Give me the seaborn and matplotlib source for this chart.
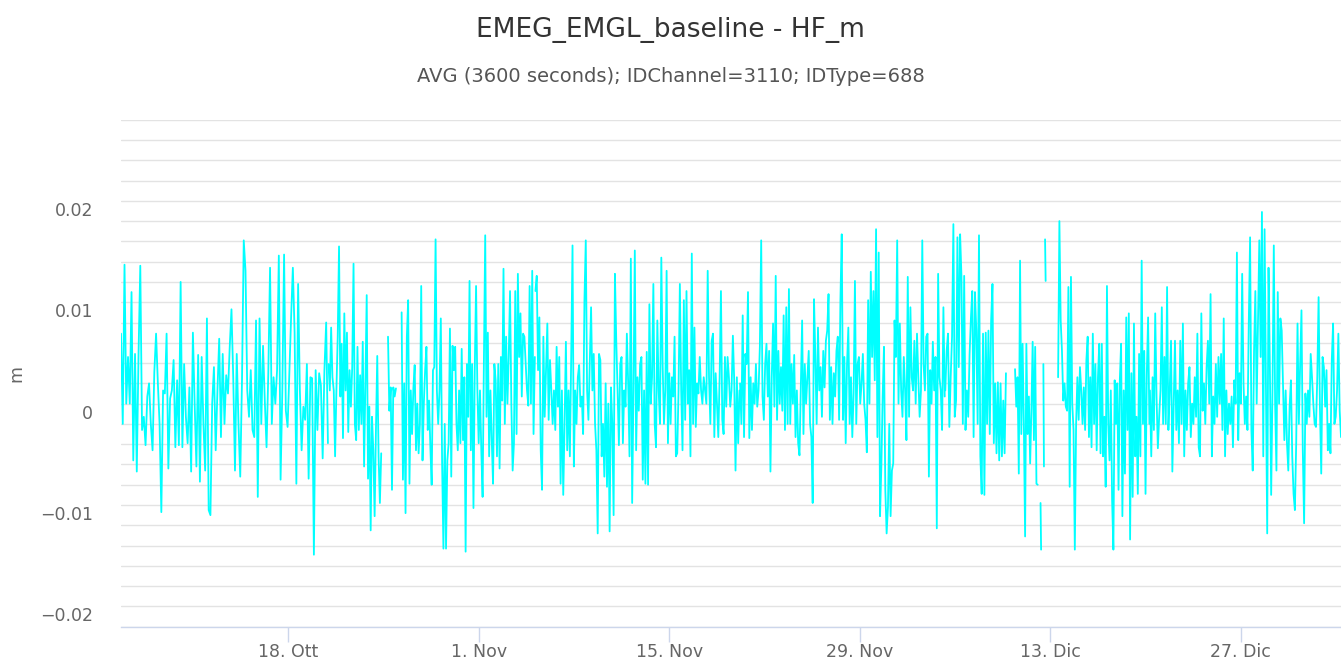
import numpy as np
import pandas as pd
import matplotlib
matplotlib.use("Agg")
import matplotlib.pyplot as plt
from matplotlib.transforms import ScaledTranslation
import seaborn as sns

# HF_m values, in millimetres, one list per continuous run
run_a = [6.9, -2.0, 13.7, 0.0, 4.6, 0.0, 11.0, -5.6, 4.9, -6.7,
         4.9, 13.6, -2.6, -1.3, -4.1, 0.7, 2.0, -2.0, -4.6, 3.1,
         6.9, 2.1, -2.0, -10.7, 1.3, 1.0, 6.9, -6.4, 0.5, 1.3,
         4.3, -4.3, 2.3, -4.1, 12.0, -4.3, 3.9, -1.3, -3.9, 1.6,
         -6.7, 7.0, 0.0, -6.2, 4.8, -7.7, 4.6, -2.0, -6.6, 8.4,
         -10.5, -11.0, 0.0, 3.6, -4.6, 1.3, 6.4, -3.3, 4.9, -2.0,
         2.8, 1.0, 5.6, 9.3, 2.6, -6.6, 4.9, -2.0, -7.2, 2.3,
         16.1, 13.1, 1.3, -1.3, 3.3, -2.6, -3.3, 8.2, -9.2, 8.4,
         -2.0, 5.7, 0.3, -4.3, 3.0, 13.4, -2.0, 2.6, 0.0, 3.3,
         14.6, -7.5, 1.3, 14.7, -0.7, -2.3, 3.0, 8.5, 13.4, 7.0,
         -7.9, 11.8, 1.3, -4.6, -0.3, -1.6, 3.9, -7.4, 2.6, 2.5,
         -14.9, 3.3, -2.6, 3.0, 1.8, -5.4, 3.3, 8.0, -3.9]
run_b = [3.9, 1.3, 7.5, 2.6, 1.3, -5.2, 1.3, 6.6, 15.5, 0.7,
         5.9, -3.4, 8.9, 1.3, 7.0, -2.8, 3.3, -0.3, 3.6, 13.8,
         -2.0, -3.6, 5.6, -2.6, 2.8, -2.0, 6.1, -6.2, 2.0, 10.7,
         -7.4, -0.3, -12.5, -1.3, -4.6, -11.1, -2.6, 4.7, -5.2, -9.8,
         -4.9]
run_c = [6.6, -0.7, 1.6, -8.5, 1.6, 0.7, 1.5]
run_d = [9.0, -7.5, 2.0, -10.8, 6.6, 10.2, -7.9, 1.3, -3.0, 1.5,
         3.8, -4.6, 0.0, -4.9, -2.0, 11.6, -5.6, 0.0, 3.3, 5.6,
         -2.6, 0.3, -4.3, -8.0, 3.3, 3.6, 16.2, 1.3, -2.0, 1.3,
         8.4, -5.9, -14.3, -2.0, -14.3, -5.6, -3.9, 7.4, -7.2, 5.7,
         3.3, 5.6, -2.0, -4.6, 1.3, -3.9, 5.4, -3.6, 2.6, -14.6,
         3.9, -1.3, 12.1, -4.6, 3.9, -10.3, 3.3, 11.6, 1.3, -3.9,
         1.3, -4.6, -9.2, 4.3, 16.6, -1.3, 7.0, -5.2, 1.3, -3.6,
         -7.9, 3.9, 2.3, -5.2, 3.9, -6.4, 4.6, 0.3, 13.3, -2.0,
         6.6, 0.0, 4.6, 11.1, 0.0, -6.6, -3.9, 11.1, -3.0, 12.8,
         4.6, 8.9, 0.7, 6.9, 6.6, 3.9, 1.3, -0.2, 11.6, 0.0,
         13.1, -3.0, 4.6]
run_e = [11.1, 12.6, 3.3, 8.5, -4.6, -8.5, 6.6, -1.3, 3.3, 7.9,
         -1.6, 4.3, 1.3, -2.0, 1.3, -2.6, 5.6, -0.3, 4.6, -7.9,
         1.3, -9.0, -2.0, 6.1, -4.6, 1.3, -5.2, 4.6, 15.6, -6.2,
         1.3, -2.0, 2.6, 3.8, -0.3, 0.7, -3.0, 10.2, 16.1, 1.3,
         -1.6, 3.9, 9.5, 1.3, 4.9, -2.0, -4.6, -12.8, 4.9, 4.3,
         -5.2, -2.0, -7.2, 2.0, -8.2, 0.0, -12.6, 1.6, -2.0, -11.0,
         12.8, 6.2, 1.3, -4.1, 3.9, 4.6, -3.9, 1.3, -0.3, 6.9,
         2.0, -5.2, 14.3, -9.8, 1.3, 15.1, -4.6, 2.6, -0.7, 3.9,
         4.6, -7.5, 1.3, -7.9, 5.1, -8.0, 9.8, 0.0, 2.6, 11.8,
         -2.0, -4.3, 8.2, 1.3, -2.0, 14.4, 3.9, -2.0, 1.3, 13.1,
         -3.9, 3.0, -2.0, 2.6, 0.7, 6.6, -5.2, -4.9, 1.3, 11.8,
         1.3, -4.6, 10.2, -1.6, 11.1, 0.0, 3.3, -5.2, 14.8, -2.0,
         7.5, -2.3, 2.0, 1.0, 4.6, 1.3, 0.0, 2.6, 1.3, 0.0,
         13.1, 2.6, -2.0, 6.2, 6.9, -3.3, 3.0, 0.0, -3.3, 2.6,
         11.1, -1.6, -3.0, 4.6, -0.3, 4.6, 2.6, -0.3, 1.3, 6.7,
         2.3, -6.6, 2.6, -3.9, 1.3]
run_f = [2.0, -2.0, 8.7, -3.3, 4.9, 3.9, 11.0, -3.4, 2.6, -2.6,
         2.0, 0.0, 3.9, -0.3, 1.3, 5.7, 16.1, 0.7, -1.6, 3.9,
         5.9, 0.7, 5.2, -6.7, 2.6, 7.9, -0.3, 12.6, -1.6, 5.2,
         0.0, 3.6, -0.7, 8.7, -2.6, 9.5, -2.0, 11.3, -2.0, 3.9,
         0.0, 4.8, -3.3, 1.3, -3.9, -5.1, 1.3, 8.2, -3.0, 3.9,
         0.0, 2.6, 5.2, -2.0, -3.3, -9.8, 10.3, 4.6, -2.0, 7.5,
         1.3, 3.6, -1.3, 5.2, 1.6, 6.2, 7.2, 10.8, -1.6, 3.6,
         -2.0, 3.0, 0.7, 5.2, 6.6, -1.6, 10.2, 16.7, -1.6, 4.6,
         -3.9, 3.9, 7.5, -2.0, 2.6, -3.3, 1.0, 12.1, -2.0, 3.9,
         4.6, 0.0, 2.0, 4.9, 0.0, -1.6, -4.8, 10.2, 0.0, 13.0,
         4.6, 11.1, 2.3, 17.2, -3.3, 14.9, -11.1, -6.2, 0.7, 5.6,
         -8.5, -12.8, -10.2, -2.0, -11.1, -6.6, -5.9, 8.2, 4.6, 16.1,
         0.0, 7.9, 1.3, -1.3, 4.6, 1.3, -3.6, 12.5, -1.3, 9.5,
         2.6, 1.3, 6.2, 0.0, 6.9, 2.6, -1.3, 1.3, 16.1, 3.9,
         1.3, 6.6, 6.9, -7.2, 3.3, 0.0, 6.1, 1.3, 4.6, -12.3,
         12.8, 2.6, 1.3, -2.6, 9.5, 0.7]
run_g = [1.3, 5.2, 6.9, -2.3, 2.6, 6.6, 17.7, -1.3, 0.3, 16.4,
         3.6, 16.7, 12.5, -2.0, 12.6, -2.6, 1.3, -1.3, 4.8, 8.4,
         11.1, -3.3, 11.0, 7.2, -2.0, 16.6, -5.2, -8.9, 6.9, -9.0,
         7.0, -2.0, 7.2, -3.0, 8.2, 11.8, -3.9, 2.0, -4.9, 2.1,
         -5.6, 2.0, -5.2, 0.3, -4.9, 3.0]
run_h = [3.4, -0.3, 2.6, -6.9, 14.1, -3.0, 5.9, -2.0, -13.1, 5.9,
         -3.0, 0.7, -5.9, -0.7, 6.1, -3.6, 5.6, -7.9, -8.0]
run_i = [-9.8, -14.4]
run_j = [3.9, -6.2]
run_k = [16.2, 12.1]
run_l = [2.6, 18.0, 8.2, 5.2, 0.3, 2.0, -0.3, -0.7, 11.5, -8.2,
         12.5, 0.0, -2.6, -14.4, -2.0, 2.6, -1.6, 3.6, 1.3, -2.0,
         1.6, -2.6, 4.3, 6.6, -3.3, 2.6, -4.3, 6.9, -2.0, 3.9,
         -4.6, 2.6, 5.9, -4.9, 5.9, -5.2, -1.3, -8.2, 11.6, -2.0,
         -5.6, 1.3, -9.5, -14.4, 2.3, -2.0, 2.0, -8.5, 2.3, 5.9,
         -11.1, 1.3, -6.9, 8.5, -2.6, 8.9, -13.4, 3.0, -9.2, 7.9,
         -5.2, -1.3, -8.9, 4.9, -5.2, 14.1, -2.0, 5.2, -8.9, 3.0,
         8.5, -2.0]
run_m = [1.3, -5.2, 2.6, -2.6, 8.9, 0.7, -4.4, -1.3, 1.3, 9.5,
         -2.0, 4.6, -2.0, 11.5, -2.6, 1.3, 6.2, -6.7, 0.0, 6.2,
         -2.6, 1.3, -3.9, 6.2, -2.0, 7.9, -5.2, 1.3, -2.6, 2.0,
         3.6, -3.3, 0.0, -2.0, 2.6, -1.3, 6.9, -4.3, -5.2, 8.9,
         -0.7, 2.0, -2.0, 3.6, 6.2, 0.0, 10.8, -5.2, 0.7, -2.0,
         3.9, -1.3, 4.6, 0.0, 4.9, -2.6, 8.4, -5.2, 1.3, -3.0,
         0.0, -2.0, 0.7, -4.3, 2.3, 0.0, 14.9, -3.6, 3.0, 0.0,
         12.8, 2.0, -2.0, 0.7, -2.6, 7.9, 16.4, -2.6, -6.6, 5.2,
         11.1, 0.0, 8.2, 16.1, 4.6, 18.9, -5.2, 17.2, 2.6, -12.8,
         13.4, 3.9, -9.0, 1.3, 15.6, 0.0, -6.6, 11.0, 0.0, 8.4,
         7.2, 2.0, -3.6, 1.3, -3.9, -6.6, -0.3, 2.3, -5.2, -8.9,
         -10.5, -3.9, 7.9, -2.0, 3.9, 9.2, -4.6, -11.8, 1.0, -2.0,
         1.3, -1.3, 4.9, 2.6, 0.0, -2.0, -2.3, 2.6, 10.5, -0.3,
         -6.9, 4.6, 3.6, -0.3, 3.3, -4.6, -2.0, -4.9, 4.3, 7.9,
         -2.0, -1.3, 1.3, 6.9, -0.7, -3.3]

# start / end time of each run (gaps in the record lie between them)
run_starts = ["2021-10-05 17:00", "2021-10-20 23:00", "2021-10-25 08:00",
              "2021-10-26 08:00", "2021-11-05 04:00", "2021-11-20 05:00",
              "2021-12-05 07:00", "2021-12-10 10:00", "2021-12-12 07:00",
              "2021-12-12 12:00", "2021-12-12 15:00", "2021-12-13 14:00",
              "2021-12-20 08:00"]
run_ends = ["2021-10-20 22:00", "2021-10-24 20:00", "2021-10-25 22:00",
            "2021-11-05 03:00", "2021-11-20 04:00", "2021-12-05 06:00",
            "2021-12-09 18:00", "2021-12-12 02:00", "2021-12-12 08:00",
            "2021-12-12 13:00", "2021-12-12 16:00", "2021-12-20 07:00",
            "2022-01-03 09:00"]
runs = [run_a, run_b, run_c, run_d, run_e, run_f, run_g,
        run_h, run_i, run_j, run_k, run_l, run_m]

x_tick_dates = ["2021-10-18", "2021-11-01", "2021-11-15",
                "2021-11-29", "2021-12-13", "2021-12-27"]
x_tick_labels = ["18. Ott", "1. Nov", "15. Nov", "29. Nov", "13. Dic", "27. Dic"]
y_label_values = [0.02, 0.01, 0.0, -0.01, -0.02]
y_label_texts = ["0.02", "0.01", "0", "\u22120.01", "\u22120.02"]

# build one long table, one unit per run
frames = []
for i, (vals, s, e) in enumerate(zip(runs, run_starts, run_ends)):
    frames.append(pd.DataFrame({
        "time": pd.date_range(s, e, periods=len(vals)),
        "hf_m": np.array(vals) / 1000.0,
        "run": i,
    }))
df = pd.concat(frames, ignore_index=True)

sns.set_style("white")
plt.rcParams["font.family"] = ["DejaVu Sans"]

fig = plt.figure(figsize=(13.41, 6.62), dpi=100)
ax = fig.add_axes([121 / 1341, 1 - 626.7 / 662, 1220 / 1341, (626.7 - 119.7) / 662])

sns.lineplot(data=df, x="time", y="hf_m", units="run", estimator=None,
             color="#00ffff", linewidth=1.3, sort=False, legend=False, ax=ax)

ax.set_xlim(pd.Timestamp("2021-10-05 17:00"), pd.Timestamp("2022-01-03 09:00"))
ax.set_ylim(-0.022, 0.028)

# horizontal grid every 0.002, labels only on the 0.01 steps
grid_vals = np.round(np.arange(-0.022, 0.0281, 0.002), 3)
ylabels = []
for g in grid_vals:
    txt = ""
    for v, t in zip(y_label_values, y_label_texts):
        if abs(g - v) < 1e-9:
            txt = t
    ylabels.append(txt)
ax.set_yticks(grid_vals)
ax.set_yticklabels(ylabels)
ax.yaxis.grid(True, color="#e3e3e3", linewidth=1.0)
ax.xaxis.grid(False)
ax.tick_params(axis="y", length=0, pad=20, labelsize=12.5, labelcolor="#666666")
offset = ScaledTranslation(0, -0.08, fig.dpi_scale_trans)
for lab in ax.yaxis.get_majorticklabels():
    lab.set_transform(lab.get_transform() + offset)

ax.set_xticks(pd.to_datetime(x_tick_dates))
ax.set_xticklabels(x_tick_labels)
ax.tick_params(axis="x", length=11, width=1.0, color="#ccd6eb", pad=1,
               labelsize=12.5, labelcolor="#666666", direction="out", bottom=True)

for side in ["top", "right", "left"]:
    ax.spines[side].set_visible(False)
ax.spines["bottom"].set_color("#ccd6eb")
ax.spines["bottom"].set_linewidth(1.0)

ax.set_xlabel("")
ax.set_ylabel("m", fontsize=12.5, color="#666666")
ax.yaxis.set_label_coords((25 - 121) / 1220, 0.5)

fig.text(0.5, 1 - 30 / 662, "EMEG_EMGL_baseline - HF_m", ha="center", va="center",
         fontsize=19, color="#333333")
fig.text(0.5, 1 - 77 / 662, "AVG (3600 seconds); IDChannel=3110; IDType=688",
         ha="center", va="center", fontsize=14, color="#555555")

fig.savefig("out.png", dpi=100)
